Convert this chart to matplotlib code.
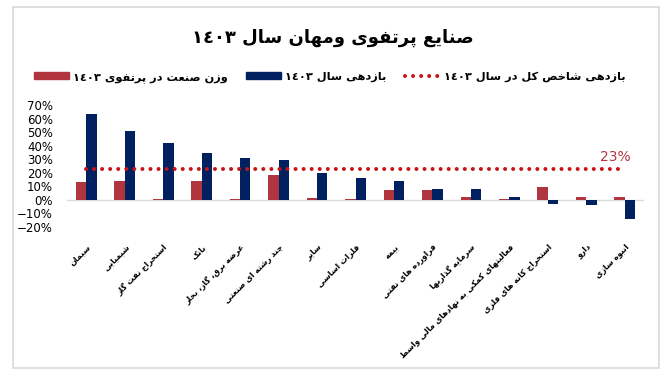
import numpy as np
import matplotlib
matplotlib.use("Agg")
import matplotlib.pyplot as plt
from matplotlib.lines import Line2D
from matplotlib.patches import Patch, Rectangle

# ---------------- data ----------------
categories = [
    "سیمان", "شیمیایی", "استخراج نفت گاز", "بانک", "عرضه برق، گاز، بخار",
    "چند رشته ای صنعتی", "سایر", "فلزات اساسی", "بیمه", "فراورده های نفتی",
    "سرمایه گذاریها", "فعالیتهای کمکی به نهادهای مالی واسط",
    "استخراج کانه های فلزی", "دارو", "انبوه سازی",
]
weight_1403 = [13.3, 14.0, 0.7, 14.0, 0.7, 18.4, 1.5, 0.7, 7.4, 7.4, 2.2, 0.7, 9.6, 2.2, 2.2]
return_1403 = [63.4, 50.9, 42.0, 34.6, 31.0, 29.5, 19.9, 16.2, 14.0, 8.1, 8.1, 2.2, -2.9, -3.7, -14.0]
index_return = 23
yticks = [-20, -10, 0, 10, 20, 30, 40, 50, 60, 70]

title = "صنایع پرتفوی ومهان سال ١٤٠٣"
legend_labels = ["وزن صنعت در پرتفوی ١٤٠٣", "بازدهی سال ١٤٠٣", "بازدهی شاخص کل در سال ١٤٠٣"]

# ---------------- minimal Arabic/Persian shaping ----------------
_DUAL = {'ب': 0xFE8F, 'پ': 0xFB56, 'ت': 0xFE95, 'ث': 0xFE99, 'ج': 0xFE9D, 'چ': 0xFB7A,
         'ح': 0xFEA1, 'خ': 0xFEA5, 'س': 0xFEB1, 'ش': 0xFEB5, 'ص': 0xFEB9, 'ض': 0xFEBD,
         'ط': 0xFEC1, 'ظ': 0xFEC5, 'ع': 0xFEC9, 'غ': 0xFECD, 'ف': 0xFED1, 'ق': 0xFED5,
         'ک': 0xFB8E, 'گ': 0xFB92, 'ل': 0xFEDD, 'م': 0xFEE1, 'ن': 0xFEE5, 'ه': 0xFEE9,
         'ی': 0xFBFC, 'ئ': 0xFE89}
_RIGHT = {'ا': 0xFE8D, 'آ': 0xFE81, 'د': 0xFEA9, 'ذ': 0xFEAB, 'ر': 0xFEAD, 'ز': 0xFEAF,
          'ژ': 0xFB8A, 'و': 0xFEED}
_DIGITS = set("0123456789٠١٢٣٤٥٦٧٨٩۰۱۲۳۴۵۶۷۸۹")


def fa(text):
    out = []
    n = len(text)
    i = 0
    while i < n:
        c = text[i]
        prev = text[i - 1] if i > 0 else ''
        prev_join = prev in _DUAL
        if c == 'ل' and i + 1 < n and text[i + 1] == 'ا':
            out.append(chr(0xFEFC if prev_join else 0xFEFB))
            i += 2
            continue
        nxt = text[i + 1] if i + 1 < n else ''
        if c in _DUAL:
            next_join = nxt in _DUAL or nxt in _RIGHT
            b = _DUAL[c]
            if prev_join and next_join:
                out.append(chr(b + 3))
            elif prev_join:
                out.append(chr(b + 1))
            elif next_join:
                out.append(chr(b + 2))
            else:
                out.append(chr(b))
        elif c in _RIGHT:
            b = _RIGHT[c]
            out.append(chr(b + 1 if prev_join else b))
        else:
            out.append(c)
        i += 1
    s = ''.join(out)[::-1]
    # restore left-to-right order of digit runs
    res, run = [], []
    for ch in s:
        if ch in _DIGITS:
            run.append(ch)
        else:
            if run:
                res.extend(run[::-1]); run = []
            res.append(ch)
    if run:
        res.extend(run[::-1])
    return ''.join(res)


# ---------------- plot ----------------
RED = "#B0353F"
NAVY = "#002060"
DOT = "#C81414"

W, H = 665, 387
fig = plt.figure(figsize=(W / 100, H / 100), dpi=100)
fig.patch.set_facecolor("white")
fig.patches.append(Rectangle((13 / W, 1 - 368 / H), (659 - 13) / W, (368 - 7) / H,
                             transform=fig.transFigure, fill=False,
                             edgecolor="#D9D9D9", linewidth=1.2))

ax = fig.add_axes([67 / W, 1 - 227 / H, (644 - 67) / W, (227 - 105) / H])
x = np.arange(len(categories))
bw = 0.27
ax.bar(x - bw / 2, weight_1403, bw, color=RED, zorder=3)
ax.bar(x + bw / 2, return_1403, bw, color=NAVY, zorder=3)
ax.axhline(0, color="#D9D9D9", linewidth=1.0, zorder=2)
ax.plot([x[0], x[-1]], [index_return, index_return], color=DOT,
        linestyle=(0, (0.001, 2.0)), linewidth=2.9, dash_capstyle="round", zorder=4)
ax.text(x[-1] - 0.25, index_return + 3.5, f"{index_return}%", color=RED,
        fontsize=10, ha="center", va="bottom")

ax.set_xlim(-0.5, len(categories) - 0.5)
ax.set_ylim(min(yticks), max(yticks))
ax.set_yticks(yticks)
ax.set_yticklabels([f"{v}%".replace("-", "\u2212") for v in yticks], fontsize=8.5)
ax.tick_params(axis="y", length=0, pad=10)
ax.set_xticks(x)
ax.set_xticklabels([fa(c) for c in categories], rotation=45, ha="right", va="top",
                   rotation_mode="anchor", fontsize=5.8, fontweight="bold")
ax.tick_params(axis="x", length=0, pad=11)
for s in ax.spines.values():
    s.set_visible(False)

fig.text(0.5, 1 - 38 / H, fa(title), ha="center", va="center", fontsize=13,
         fontweight="bold")

handles = [Patch(color=RED), Patch(color=NAVY),
           Line2D([0], [0], color=DOT, linestyle=(0, (0.001, 2.0)), linewidth=2.9,
                  dash_capstyle="round")]
fig.legend(handles, [fa(l) for l in legend_labels], loc="center",
           bbox_to_anchor=(0.5 - 3 / W, 1 - 77 / H), ncol=3, frameon=False,
           prop={"size": 8.2, "weight": "bold"}, handlelength=3.1, handleheight=0.55,
           columnspacing=1.6, handletextpad=0.35)

fig.savefig("out.png", dpi=100, facecolor="white")
